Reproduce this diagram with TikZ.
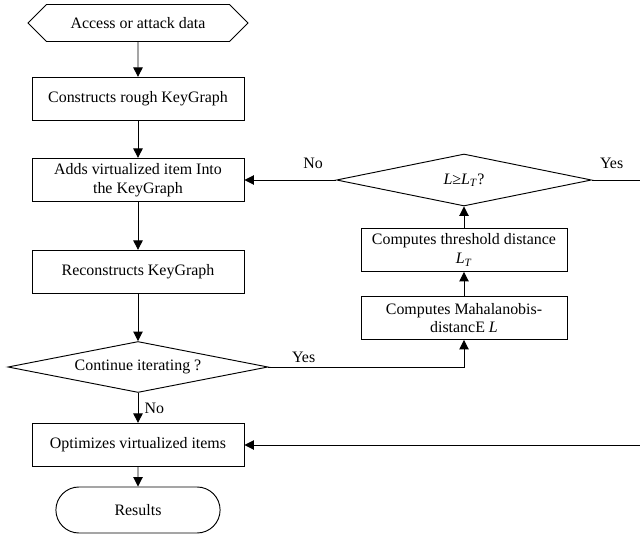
\documentclass[tikz,border=0pt]{standalone}
\usepackage{fontspec}
\setmainfont{Liberation Serif}
\usetikzlibrary{arrows.meta,shapes.geometric,shapes.symbols,shapes.misc}

\begin{document}
\begin{tikzpicture}[x=0.03cm,y=-0.03cm,
    font=\fontsize{13.6}{16}\selectfont,
    line width=0.8pt,
    every node/.style={align=center},
    procbox/.style={draw,rectangle,minimum width=6.36cm,minimum height=1.3cm,inner sep=2pt},
    sidebox/.style={draw,rectangle,minimum width=6.18cm,minimum height=1.29cm,inner sep=2pt},
    decision/.style={draw,diamond,inner sep=0pt,aspect=5},
    flow/.style={-{Triangle[length=8pt,width=8pt]}}]
    \useasboundingbox (0,0) rectangle (640,536);

    % main column (left)
    \node[draw,signal,signal to=west and east,minimum width=6.6cm,minimum height=1.11cm,
        inner sep=0pt] (input) at (138,23) {Access or attack data};
    \node[procbox] (rough) at (138,99) {Constructs rough KeyGraph};
    \node[procbox] (adds) at (138,180) {Adds virtualized item Into\\the KeyGraph};
    \node[procbox] (recon) at (138,272) {Reconstructs KeyGraph};
    \node[decision,minimum width=7.8cm,minimum height=1.53cm] (cont) at (138,367)
        {Continue iterating ?};
    \node[procbox] (optim) at (138,445) {Optimizes virtualized items};
    \node[draw,rounded rectangle,minimum width=5.16cm,minimum height=1.38cm] (res) at (138,510) {Results};

    % side column (right)
    \node[decision,minimum width=7.65cm,minimum height=1.56cm] (check) at (464,180)
        {\textit{L}≥\textit{L}\textsubscript{\textit{T}}?};
    \node[sidebox] (thres) at (464,250) {Computes threshold distance\\\textit{L}\textsubscript{\textit{T}}};
    \node[sidebox] (maha) at (464,318) {Computes Mahalanobis-\\distancE \textit{L}};
    \coordinate (edge) at (640,180);

    % connectors
    \draw[flow] (input) -- (rough);
    \draw[flow] (rough) -- (adds);
    \draw[flow] (adds) -- (recon);
    \draw[flow] (recon) -- (cont);
    \draw[flow] (cont) -- node[right,xshift=2pt] {No} (optim);
    \draw[flow] (optim) -- (res);
    \draw[flow] (cont.east) -- node[above,pos=0.18] {Yes} (cont.east -| maha.south) -- (maha.south);
    \draw[flow] (maha) -- (thres);
    \draw[flow] (thres) -- (check);
    \draw[flow] (check.west) -- node[above,pos=0.25,yshift=6pt] {No} (adds.east);
    \draw[flow] (check.east) -- node[above,pos=0.4,yshift=6pt] {Yes} ([xshift=1pt]edge) -- ([xshift=1pt]edge |- optim.east) -- (optim.east);
\end{tikzpicture}
\end{document}
